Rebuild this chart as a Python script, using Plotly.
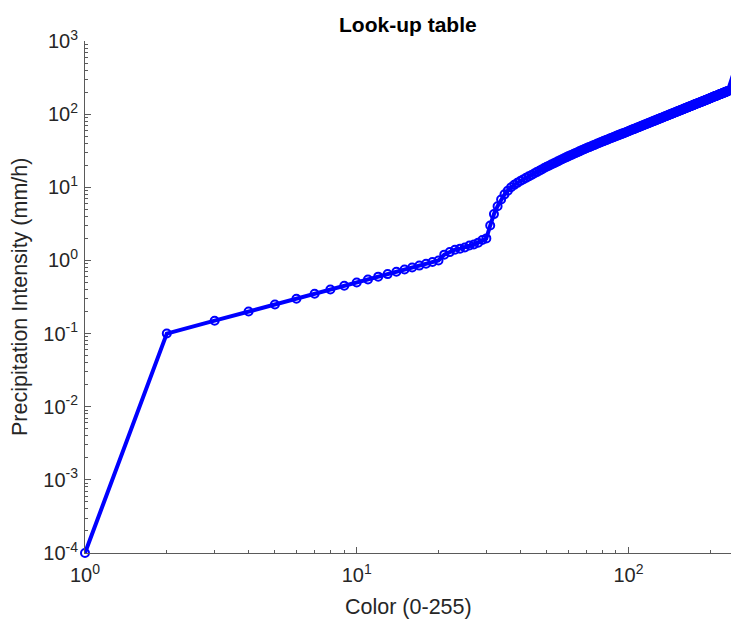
import plotly.graph_objects as go

# Colour index (x) and precipitation intensity (y)
color_index = list(range(1, 233)) + [255]

intensity = [
    0.0001,
    0.10, 0.15, 0.20, 0.25, 0.30, 0.35, 0.40, 0.45, 0.50,
    0.55, 0.60, 0.65, 0.70, 0.75, 0.80, 0.85, 0.90, 0.95, 1.00,
    1.2, 1.3, 1.4, 1.45, 1.5, 1.6, 1.65, 1.75, 1.9, 2.0,
    3.0, 4.3, 5.5, 6.8, 8.0, 9.0, 10.0, 10.8, 11.5, 12.2,
    12.82, 13.45, 14.10, 14.76, 15.44, 16.13, 16.84, 17.57, 18.31, 19.06,
    19.75, 20.45, 21.17, 21.89, 22.63, 23.38, 24.13, 24.90, 25.67, 26.47,
    27.20, 27.94, 28.69, 29.44, 30.21, 30.98, 31.76, 32.55, 33.34, 34.14,
    34.90, 35.67, 36.43, 37.21, 37.99, 38.78, 39.58, 40.38, 41.18, 41.99,
    42.78, 43.57, 44.37, 45.18, 45.99, 46.80, 47.62, 48.44, 49.27, 50.10,
    50.91, 51.72, 52.54, 53.36, 54.18, 55.01, 55.84, 56.68, 57.52, 58.37,
    59.27, 60.16, 61.06, 61.96, 62.86, 63.75, 64.65, 65.55, 66.44, 67.34,
    68.28, 69.22, 70.16, 71.10, 72.04, 72.97, 73.91, 74.85, 75.79, 76.73,
    77.71, 78.69, 79.67, 80.65, 81.63, 82.60, 83.58, 84.56, 85.54, 86.52,
    87.54, 88.55, 89.57, 90.59, 91.61, 92.62, 93.64, 94.66, 95.67, 96.69,
    97.74, 98.80, 99.85, 100.91, 101.96, 103.01, 104.07, 105.12, 106.18, 107.23,
    108.32, 109.41, 110.50, 111.59, 112.68, 113.77, 114.86, 115.95, 117.04, 118.13,
    119.26, 120.38, 121.51, 122.63, 123.76, 124.88, 126.01, 127.13, 128.26, 129.38,
    130.54, 131.70, 132.85, 134.01, 135.17, 136.33, 137.49, 138.64, 139.80, 140.96,
    142.15, 143.34, 144.53, 145.72, 146.92, 148.11, 149.30, 150.49, 151.68, 152.87,
    154.09, 155.32, 156.54, 157.76, 158.99, 160.21, 161.43, 162.65, 163.88, 165.10,
    166.35, 167.61, 168.86, 170.11, 171.37, 172.62, 173.87, 175.12, 176.38, 177.63,
    178.91, 180.20, 181.48, 182.77, 184.05, 185.33, 186.62, 187.90, 189.19, 190.47,
    191.78, 193.10, 194.41, 195.72, 197.04, 198.35, 199.66, 200.97, 202.29, 203.60,
    204.93, 206.26,
    600.0,
]

x_tickvals = [1, 10, 100]
x_ticktext = ["10<sup>0</sup>", "10<sup>1</sup>", "10<sup>2</sup>"]
y_tickvals = [1e-4, 1e-3, 1e-2, 1e-1, 1, 10, 100, 1000]
y_ticktext = ["10<sup>-4</sup>", "10<sup>-3</sup>", "10<sup>-2</sup>", "10<sup>-1</sup>",
              "10<sup>0</sup>", "10<sup>1</sup>", "10<sup>2</sup>", "10<sup>3</sup>"]

title_text = "Look-up table"
x_label = "Color (0-255)"
y_label = "Precipitation Intensity (mm/h)"

FONT = "Liberation Sans, Arial, sans-serif"
TXT = "#262626"
AX = "#5a5a5a"

fig = go.Figure()
fig.add_trace(go.Scatter(
    x=color_index, y=intensity, mode="lines+markers",
    line=dict(color="#0000ff", width=4),
    marker=dict(symbol="circle-open", size=8, color="#0000ff", line=dict(width=2, color="#0000ff")),
    showlegend=False, cliponaxis=False,
))

axis_common = dict(
    type="log", showgrid=False, zeroline=False, showline=True, linecolor=AX, linewidth=1,
    ticks="inside", ticklen=6, tickcolor=AX, tickwidth=1,
    tickfont=dict(family=FONT, size=20, color=TXT),
    minor=dict(ticks="inside", ticklen=3, tickcolor=AX, dtick="D1", showgrid=False),
)

fig.update_layout(
    width=731, height=620,
    margin=dict(l=85, r=0, t=41, b=67),
    paper_bgcolor="white", plot_bgcolor="white",
    xaxis=dict(range=[0, 2.3776], tickmode="array", tickvals=x_tickvals, ticktext=x_ticktext,
               ticklabelstandoff=4, **axis_common),
    yaxis=dict(range=[-4, 3], tickmode="array", tickvals=y_tickvals, ticktext=y_ticktext,
               ticklabelstandoff=2, **axis_common),
    annotations=[
        dict(text="<b>" + title_text + "</b>", xref="paper", yref="paper", x=0.5, y=1.033,
             xanchor="center", yanchor="middle", showarrow=False,
             font=dict(family=FONT, size=21, color="#000000")),
        dict(text=x_label, xref="paper", yref="paper", x=0.5, y=-0.1055,
             xanchor="center", yanchor="middle", showarrow=False,
             font=dict(family=FONT, size=21.5, color=TXT)),
        dict(text=y_label, xref="paper", yref="paper", x=(20 - 85) / 646, y=0.5,
             xanchor="center", yanchor="middle", textangle=-90, showarrow=False,
             font=dict(family=FONT, size=21.5, color=TXT)),
    ],
)

fig.write_html("out.html")
